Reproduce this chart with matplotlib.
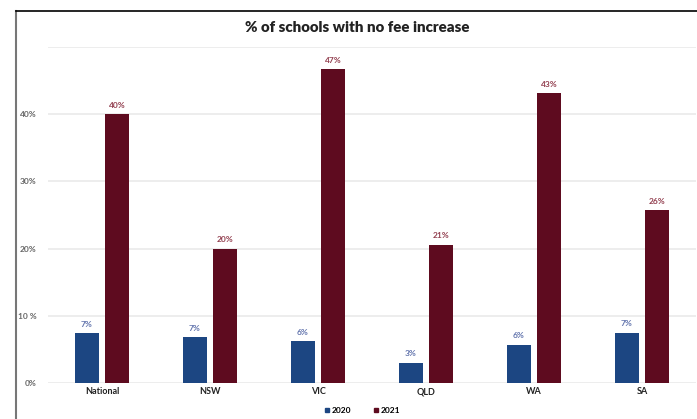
import numpy as np
import matplotlib.pyplot as plt
from matplotlib.lines import Line2D

categories = ['National', 'NSW', 'VIC', 'QLD', 'WA', 'SA']
vals_2020 = [7.4, 6.8, 6.2, 3.0, 5.7, 7.5]
vals_2021 = [40.0, 20.0, 46.7, 20.6, 43.1, 25.7]
labels_2020 = ['7%', '7%', '6%', '3%', '6%', '7%']
labels_2021 = ['40%', '20%', '47%', '21%', '43%', '26%']
yticks = [0, 10, 20, 30, 40, 50]
ytick_labels = ['0%', '10 %', '20%', '30%', '40%', '']

blue = '#1c4682'
maroon = '#5e0b1f'

plt.rcParams['font.family'] = ['Lato', 'DejaVu Sans']

fig = plt.figure(figsize=(6.97, 4.19), dpi=100)
ax = fig.add_axes([48 / 697, 36 / 419, 648 / 697, 336 / 419])

x = np.arange(len(categories))
off = 0.139
w = 0.222
b1 = ax.bar(x - off, vals_2020, w, color=blue, zorder=3)
b2 = ax.bar(x + off, vals_2021, w, color=maroon, zorder=3)

for rect, lab in zip(b1, labels_2020):
    ax.text(rect.get_x() + rect.get_width() / 2, rect.get_height() + 0.8, lab,
            ha='center', va='bottom', fontsize=6, fontweight='bold', color='#6274ad')
for rect, lab in zip(b2, labels_2021):
    ax.text(rect.get_x() + rect.get_width() / 2, rect.get_height() + 0.8, lab,
            ha='center', va='bottom', fontsize=6, fontweight='bold', color='#934050')

ax.set_xlim(-0.5, len(categories) - 0.5)
ax.set_ylim(0, 50)
ax.set_yticks(yticks)
ax.set_yticklabels(ytick_labels, fontsize=6, fontweight='bold', color='#666666')
ax.set_xticks(x)
ax.set_xticklabels(categories, fontsize=6.5, fontweight='bold', color='#222222')
ax.tick_params(length=0, axis='y', pad=8)
ax.tick_params(length=0, axis='x', pad=3)
ax.grid(axis='y', color='#ececec', linewidth=1.3, zorder=0)
for s in ax.spines.values():
    s.set_visible(False)

fig.text(357 / 697, 1 - 28 / 419, '% of schools with no fee increase',
         ha='center', va='center', fontsize=10.8, fontweight='heavy', color='#222222')

handles = [Line2D([], [], marker='s', color=blue, linestyle='', markersize=3.5),
           Line2D([], [], marker='s', color=maroon, linestyle='', markersize=3.5)]
fig.legend(handles, ['2020', '2021'], loc='center', bbox_to_anchor=(362 / 697, 1 - 410 / 419),
           ncol=2, frameon=False, handletextpad=0.2, columnspacing=2.5,
           handlelength=0.8, prop={'weight': 'bold', 'size': 6})

# frame of the screenshot
fig.add_artist(Line2D([16 / 697, 16 / 697], [0, 1 - 11 / 419], color='#777777', linewidth=1.5))
fig.add_artist(Line2D([16 / 697, 1], [1 - 11 / 419, 1 - 11 / 419], color='black', linewidth=1.2))

fig.savefig('out.png', dpi=100)
